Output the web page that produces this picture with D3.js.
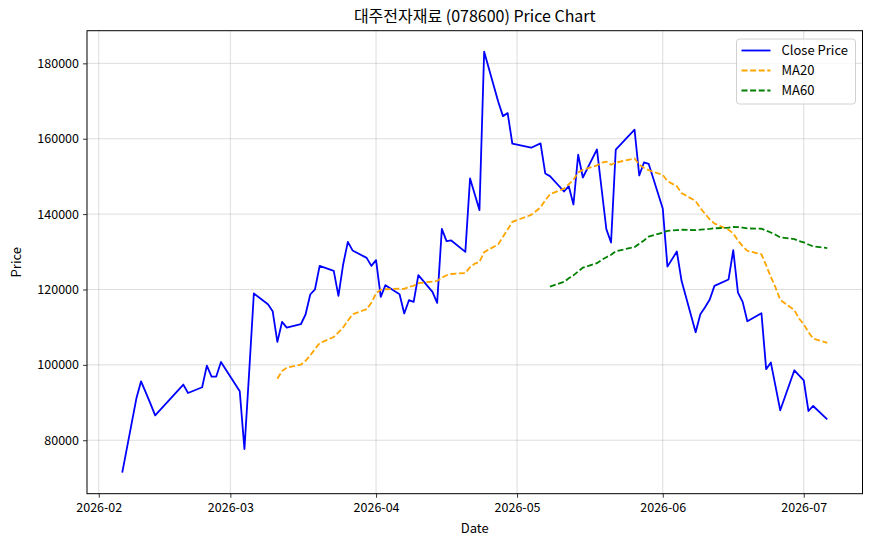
<!DOCTYPE html>
<html>
<head>
<meta charset="utf-8">
<script src="https://cdn.jsdelivr.net/npm/d3@7"></script>
<style>
  body { margin: 0; background: #fff; }
  text { font-family: "Noto Sans CJK KR", "Noto Sans", sans-serif; fill: #000; }
</style>
</head>
<body>
<svg id="chart" width="872" height="546"></svg>
<script>
// trading days and closing prices
const dates = [
  "2026-02-06","2026-02-09","2026-02-10","2026-02-11","2026-02-12","2026-02-13","2026-02-19","2026-02-20",
  "2026-02-23","2026-02-24","2026-02-25","2026-02-26","2026-02-27",
  "2026-03-03","2026-03-04","2026-03-05","2026-03-06","2026-03-09","2026-03-10","2026-03-11","2026-03-12","2026-03-13",
  "2026-03-16","2026-03-17","2026-03-18","2026-03-19","2026-03-20","2026-03-23","2026-03-24","2026-03-25","2026-03-26","2026-03-27",
  "2026-03-30","2026-03-31","2026-04-01","2026-04-02","2026-04-03","2026-04-06","2026-04-07","2026-04-08","2026-04-09","2026-04-10",
  "2026-04-13","2026-04-14","2026-04-15","2026-04-16","2026-04-17","2026-04-20","2026-04-21","2026-04-22","2026-04-23","2026-04-24",
  "2026-04-27","2026-04-28","2026-04-29","2026-04-30","2026-05-04","2026-05-06","2026-05-07","2026-05-08",
  "2026-05-11","2026-05-12","2026-05-13","2026-05-14","2026-05-15","2026-05-18","2026-05-19","2026-05-20","2026-05-21","2026-05-22",
  "2026-05-26","2026-05-27","2026-05-28","2026-05-29","2026-06-01","2026-06-02","2026-06-04","2026-06-05",
  "2026-06-08","2026-06-09","2026-06-10","2026-06-11","2026-06-12","2026-06-15","2026-06-16","2026-06-17","2026-06-18","2026-06-19",
  "2026-06-22","2026-06-23","2026-06-24","2026-06-25","2026-06-26","2026-06-29","2026-06-30","2026-07-01","2026-07-02","2026-07-03",
  "2026-07-06"
];
const closes = [
  71400, 91050, 95640, 92700, 89700, 86600, 94770, 92540,
  94050, 99800, 96900, 96900, 100770,
  93000, 77660, 98000, 118940, 116100, 114240, 106080, 111400, 109900,
  110780, 113360, 118670, 120000, 126270, 124940, 118300, 126640, 132640, 130360,
  128390, 126270, 127780, 118050, 121140, 118750, 113630, 117160, 116700, 123800,
  119360, 116440, 136100, 132830, 133010, 129990, 149460, 145300, 141060, 183080,
  169800, 166000, 166800, 158670, 157610, 158750, 150800, 150080,
  146000, 147400, 142550, 155750, 149720, 157160, 146600, 136020, 132460, 157080,
  162390, 150250, 153700, 153360, 141490, 126070, 130070, 122300,
  108660, 113440, 115300, 117340, 120960, 122660, 130440, 119180, 116710, 111580,
  113700, 98850, 100610, 94300, 87940, 98560, 97200, 95900, 87760, 89090,
  85550
];
const yTicks = [80000, 100000, 120000, 140000, 160000, 180000];
const xTicks = ["2026-02-01","2026-03-01","2026-04-01","2026-05-01","2026-06-01","2026-07-01"];

const width = 872, height = 546;
const margin = { top: 30.7, right: 9.5, bottom: 52.3, left: 87 };

const parse = d3.timeParse("%Y-%m-%d");
const data = dates.map((d, i) => ({ date: parse(d), close: closes[i] }));

// rolling means like pandas .rolling(n).mean()
const rolling = n => data.map((d, i) => i < n - 1 ? null :
  { date: d.date, value: d3.mean(data.slice(i - n + 1, i + 1), e => e.close) }).filter(d => d);
const ma20 = rolling(20);
const ma60 = rolling(60);

// matplotlib style 5% padding on both axes
const [x0, x1] = d3.extent(data, d => d.date);
const xPad = (x1 - x0) * 0.05;
const x = d3.scaleTime()
  .domain([new Date(+x0 - xPad), new Date(+x1 + xPad)])
  .range([margin.left, width - margin.right]);

const [y0, y1] = d3.extent(closes);
const yPad = (y1 - y0) * 0.05;
const y = d3.scaleLinear()
  .domain([y0 - yPad, y1 + yPad])
  .range([height - margin.bottom, margin.top]);

const svg = d3.select("#chart");

// grid
const grid = svg.append("g").attr("stroke", "#b0b0b0").attr("stroke-opacity", 0.55).attr("stroke-width", 0.8);
grid.selectAll(".gx").data(xTicks.map(parse)).join("line")
  .attr("x1", d => x(d)).attr("x2", d => x(d))
  .attr("y1", margin.top).attr("y2", height - margin.bottom);
grid.selectAll(".gy").data(yTicks).join("line")
  .attr("x1", margin.left).attr("x2", width - margin.right)
  .attr("y1", d => y(d)).attr("y2", d => y(d));

// lines
const plot = svg.append("g");
plot.append("path")
  .datum(data)
  .attr("fill", "none").attr("stroke", "blue").attr("stroke-width", 1.8)
  .attr("stroke-linejoin", "round")
  .attr("d", d3.line().x(d => x(d.date)).y(d => y(d.close)));
plot.append("path")
  .datum(ma20)
  .attr("fill", "none").attr("stroke", "orange").attr("stroke-width", 1.8)
  .attr("stroke-dasharray", "6,2.6")
  .attr("d", d3.line().x(d => x(d.date)).y(d => y(d.value)));
plot.append("path")
  .datum(ma60)
  .attr("fill", "none").attr("stroke", "green").attr("stroke-width", 1.8)
  .attr("stroke-dasharray", "6,2.6")
  .attr("d", d3.line().x(d => x(d.date)).y(d => y(d.value)));

// axes
const xAxis = svg.append("g")
  .attr("transform", `translate(0,${height - margin.bottom})`)
  .call(d3.axisBottom(x).tickValues(xTicks.map(parse)).tickFormat(d3.timeFormat("%Y-%m")).tickSize(4).tickPadding(5));
const yAxis = svg.append("g")
  .attr("transform", `translate(${margin.left},0)`)
  .call(d3.axisLeft(y).tickValues(yTicks).tickFormat(d3.format("d")).tickSize(4).tickPadding(4));
[xAxis, yAxis].forEach(g => {
  g.select(".domain").remove();
  g.selectAll("text").attr("font-size", 12.5).attr("fill", "#000");
  g.selectAll("line").attr("stroke", "#000").attr("stroke-width", 0.8);
});

// frame
svg.append("rect")
  .attr("x", margin.left).attr("y", margin.top)
  .attr("width", width - margin.left - margin.right)
  .attr("height", height - margin.top - margin.bottom)
  .attr("fill", "none").attr("stroke", "#000").attr("stroke-width", 1);

// labels
svg.append("text")
  .attr("x", (margin.left + width - margin.right) / 2).attr("y", 22)
  .attr("text-anchor", "middle").attr("font-size", 16)
  .text("대주전자재료 (078600) Price Chart");
svg.append("text")
  .attr("x", (margin.left + width - margin.right) / 2).attr("y", 533)
  .attr("text-anchor", "middle").attr("font-size", 13)
  .text("Date");
svg.append("text")
  .attr("transform", `translate(21,${(margin.top + height - margin.bottom) / 2}) rotate(-90)`)
  .attr("text-anchor", "middle").attr("font-size", 13)
  .text("Price");

// legend
const legendItems = [
  { label: "Close Price", color: "blue", dash: null },
  { label: "MA20", color: "orange", dash: "6,2.6" },
  { label: "MA60", color: "green", dash: "6,2.6" }
];
const legend = svg.append("g").attr("transform", "translate(736.5,39)");
legend.append("rect")
  .attr("width", 119).attr("height", 65).attr("rx", 3)
  .attr("fill", "#fff").attr("fill-opacity", 0.8)
  .attr("stroke", "#d0d0d0").attr("stroke-width", 1);
legend.selectAll("g").data(legendItems).join("g")
  .attr("transform", (d, i) => `translate(0,${11.5 + i * 20})`)
  .each(function (d) {
    const g = d3.select(this);
    g.append("line")
      .attr("x1", 5).attr("x2", 34)
      .attr("stroke", d.color).attr("stroke-width", 1.8)
      .attr("stroke-dasharray", d.dash);
    g.append("text")
      .attr("x", 45).attr("dy", "0.35em").attr("font-size", 13)
      .text(d.label);
  });
</script>
</body>
</html>
